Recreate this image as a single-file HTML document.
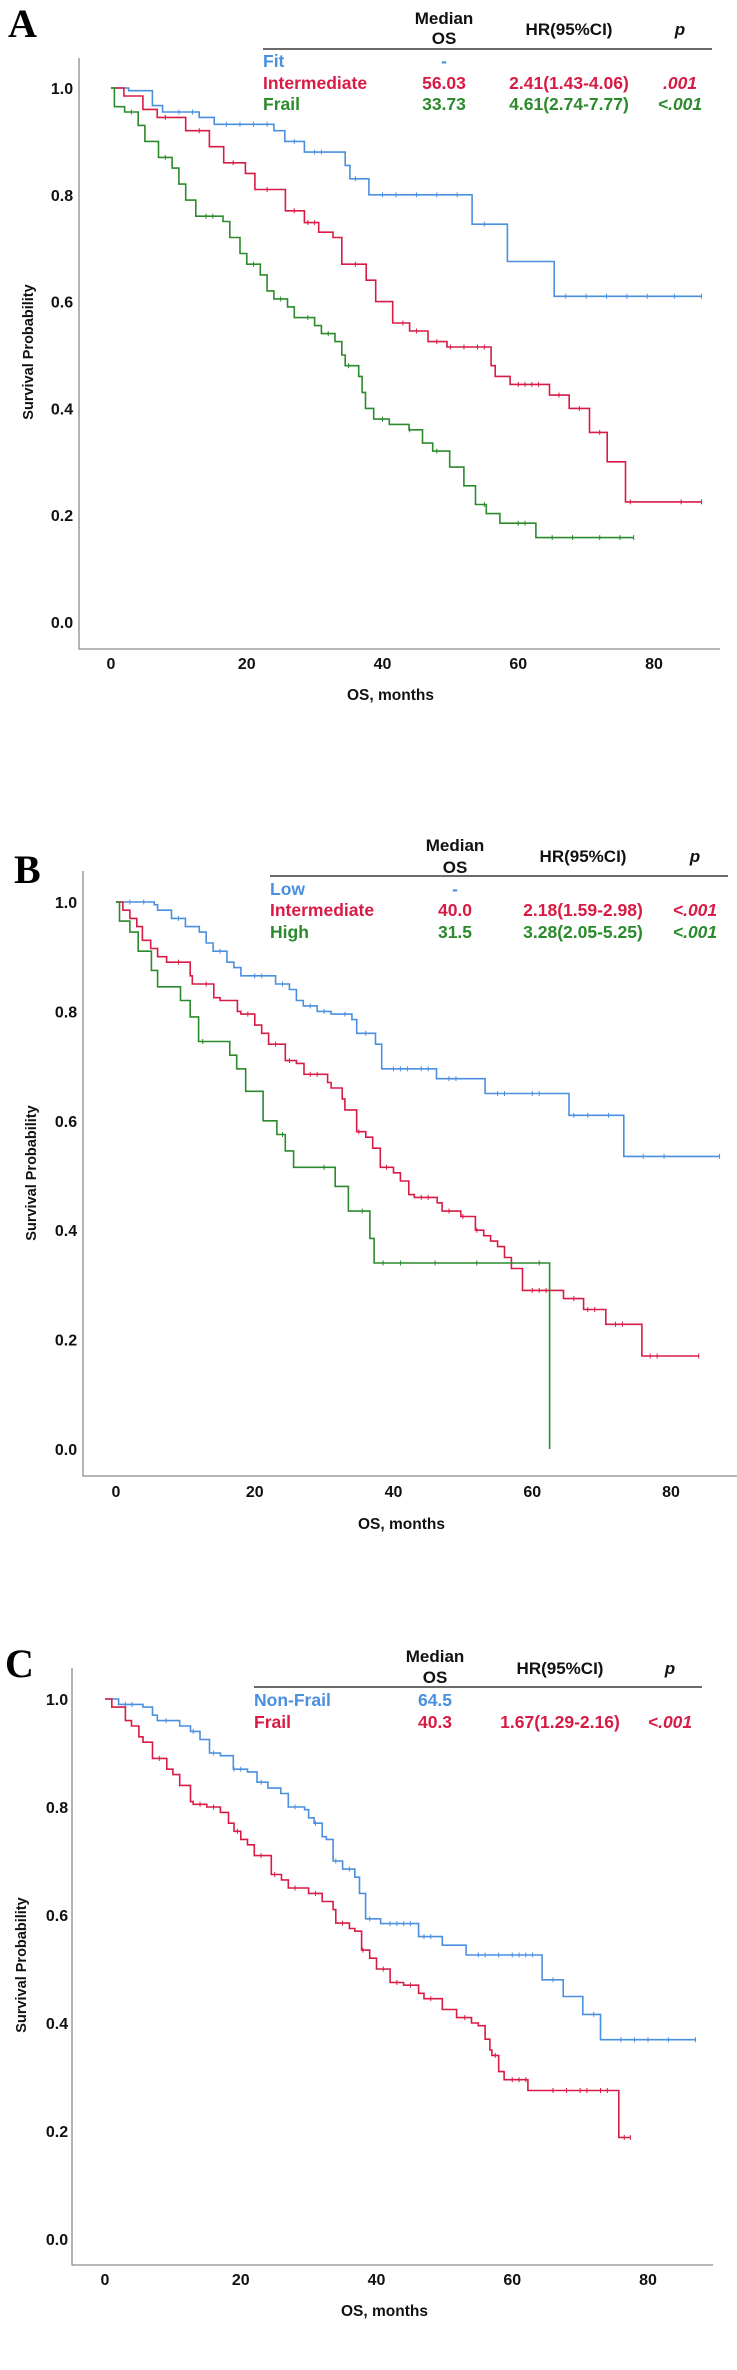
<!DOCTYPE html>
<html><head><meta charset="utf-8"><style>
html,body{margin:0;padding:0;background:#fff;}
svg{display:block;font-family:"Liberation Sans",Arial,sans-serif;}
</style></head><body>
<svg id="fig" width="737" height="2370" viewBox="0 0 737 2370" xmlns="http://www.w3.org/2000/svg"></svg>
<script>
// ---- data (months, survival probability) ----
const xTicks = [0, 20, 40, 60, 80];
const yTicks = [0.0, 0.2, 0.4, 0.6, 0.8, 1.0];
const yTickLabels = ["0.0", "0.2", "0.4", "0.6", "0.8", "1.0"];

// Panel A
const aFitT = [2.6, 6.1, 7.6, 13, 15.2, 24, 25.6, 28.5, 34.5, 35.2, 38, 53.2, 58.4, 65.3];
const aFitS = [0.995, 0.967, 0.955, 0.945, 0.932, 0.92, 0.90, 0.88, 0.855, 0.83, 0.80, 0.745, 0.675, 0.61];
const aFitEnd = 87;
const aFitCens = [10, 12, 17, 19, 21, 23, 27, 30, 31, 36, 40, 42, 45, 48, 51, 55, 67, 70, 73, 76, 79, 83, 87];
const aIntT = [1.9, 4.7, 6.8, 11, 14.5, 16.6, 19.8, 21.2, 25.7, 28.5, 30.6, 32.7, 34, 37.6, 39, 41.5, 44, 46.7, 49.5, 56, 56.6, 58.8, 64.6, 67.5, 70.5, 73.1, 75.8];
const aIntS = [0.985, 0.96, 0.945, 0.92, 0.89, 0.86, 0.84, 0.81, 0.77, 0.748, 0.73, 0.72, 0.67, 0.64, 0.6, 0.56, 0.545, 0.525, 0.515, 0.48, 0.46, 0.445, 0.425, 0.40, 0.355, 0.30, 0.225];
const aIntEnd = 87;
const aIntCens = [8, 13, 18, 23, 27, 29, 30, 36, 43, 45, 48, 50, 52, 54, 55, 60, 61, 62, 63, 66, 69, 72, 76.5, 84, 87];
const aFrailT = [0.5, 2, 4, 5, 7, 9, 10, 11, 12.5, 16.5, 17.5, 19, 20, 22, 23, 24, 26, 27, 30, 31, 33, 34, 34.5, 36.5, 37, 37.5, 38.7, 41, 43.9, 45.9, 47.4, 49.9, 52, 53.7, 55.3, 57.3, 62.6];
const aFrailS = [0.965, 0.955, 0.93, 0.90, 0.87, 0.85, 0.82, 0.79, 0.76, 0.75, 0.72, 0.69, 0.67, 0.65, 0.62, 0.605, 0.59, 0.57, 0.555, 0.54, 0.525, 0.50, 0.48, 0.46, 0.43, 0.40, 0.38, 0.37, 0.36, 0.335, 0.32, 0.29, 0.255, 0.22, 0.203, 0.185, 0.158];
const aFrailEnd = 77;
const aFrailCens = [3, 8, 14, 15, 21, 25, 29, 32, 35, 40, 44, 48, 55, 60, 61, 65, 68, 72, 75, 77];

// Panel B
const bLowT = [5.5, 6, 8, 10, 12, 13, 14, 16, 17, 18, 23, 25, 26, 27, 29, 31, 34, 34.7, 37.4, 38.3, 46.2, 53.2, 65.3, 73.2];
const bLowS = [0.995, 0.985, 0.97, 0.955, 0.945, 0.925, 0.91, 0.89, 0.88, 0.865, 0.85, 0.84, 0.82, 0.81, 0.80, 0.795, 0.785, 0.76, 0.74, 0.695, 0.677, 0.65, 0.61, 0.535];
const bLowEnd = 87;
const bLowCens = [2, 4, 9, 15, 20, 21, 24, 28, 30, 33, 36, 40, 41, 42, 44, 45, 48, 49, 55, 56, 60, 61, 66, 68, 71, 76, 79, 87];
const bIntT = [1, 2, 3, 3.8, 5, 6, 7.3, 10.7, 11, 14.1, 15, 17.5, 18, 20, 21, 22, 24.4, 26, 27.1, 30.5, 31, 32.6, 33, 34.7, 36, 37, 38.1, 40, 41, 42.2, 43, 46.3, 47, 49.7, 51.8, 53, 54, 55, 56, 57, 58.6, 64.5, 67.4, 70.6, 75.8];
const bIntS = [0.985, 0.97, 0.955, 0.93, 0.915, 0.90, 0.89, 0.865, 0.85, 0.825, 0.82, 0.80, 0.795, 0.775, 0.76, 0.74, 0.71, 0.705, 0.685, 0.67, 0.66, 0.64, 0.62, 0.58, 0.57, 0.55, 0.515, 0.505, 0.49, 0.465, 0.46, 0.45, 0.435, 0.425, 0.40, 0.39, 0.38, 0.37, 0.35, 0.33, 0.29, 0.275, 0.255, 0.228, 0.17];
const bIntEnd = 84;
const bIntCens = [9, 13, 19, 23, 25, 28, 29, 35, 39, 44, 45, 48, 50, 52, 60, 61, 62, 66, 68, 69, 72, 73, 77, 78, 84];
const bHighT = [0.5, 2, 3.2, 5.1, 6, 9.3, 10.7, 11.9, 16.4, 17.4, 18.7, 21.2, 23.2, 24.4, 25.6, 31.6, 33.5, 36.6, 37.2, 62.5];
const bHighS = [0.965, 0.945, 0.91, 0.875, 0.845, 0.82, 0.79, 0.745, 0.72, 0.695, 0.654, 0.60, 0.575, 0.545, 0.515, 0.48, 0.435, 0.385, 0.34, 0.0];
const bHighEnd = 62.5;
const bHighCens = [12.5, 24, 30, 35.5, 38.5, 41, 46, 52, 61];

// Panel C
const cNonT = [2, 5.6, 7, 7.7, 11, 12.6, 14, 15.4, 17, 18.9, 21, 22.4, 24, 25.9, 27, 29.4, 30, 30.8, 32, 32.6, 33.6, 35, 36.8, 37.5, 38.4, 40.6, 46.2, 49.7, 53.2, 64.4, 67.5, 70.4, 73];
const cNonS = [0.99, 0.985, 0.97, 0.96, 0.95, 0.94, 0.925, 0.90, 0.895, 0.87, 0.865, 0.846, 0.835, 0.825, 0.80, 0.795, 0.78, 0.77, 0.745, 0.74, 0.70, 0.685, 0.67, 0.64, 0.593, 0.584, 0.56, 0.544, 0.526, 0.48, 0.449, 0.416, 0.369];
const cNonEnd = 87;
const cNonCens = [3, 4, 9, 13, 16, 19, 20, 23, 28, 31, 34, 36, 39, 42, 43, 44, 45, 47, 48, 55, 56, 58, 60, 61, 62, 63, 66, 72, 76, 78, 80, 83, 87];
const cFrailT = [1, 3, 3.9, 5, 5.6, 7, 9.1, 10, 11, 12.6, 13, 15, 17, 18.2, 19, 20, 21, 22, 24.5, 26, 27, 30, 32, 33.6, 34, 36, 36.8, 37.8, 39, 40, 42, 44, 46.2, 47, 49.7, 51.8, 54, 55, 56, 56.7, 57, 58, 58.8, 62.3, 75.7];
const cFrailS = [0.985, 0.96, 0.95, 0.93, 0.92, 0.89, 0.87, 0.86, 0.84, 0.81, 0.805, 0.80, 0.79, 0.77, 0.755, 0.74, 0.73, 0.71, 0.675, 0.665, 0.65, 0.64, 0.625, 0.61, 0.585, 0.575, 0.57, 0.535, 0.52, 0.50, 0.475, 0.47, 0.455, 0.445, 0.425, 0.41, 0.40, 0.395, 0.37, 0.35, 0.34, 0.31, 0.295, 0.275, 0.188];
const cFrailEnd = 77.4;
const cFrailCens = [8, 14, 16, 19.5, 23, 25, 28, 31, 35, 38, 41, 43, 45, 48, 53, 57.5, 60, 61, 62, 66, 68, 70, 71, 73, 74, 76.5, 77.4];

// ---- drawing ----
const NS = "http://www.w3.org/2000/svg";
const svg = document.getElementById("fig");
const BLUE = "#4a8fe0", RED = "#d81b45", GREEN = "#2b8a2b", AX = "#8c8c8c";

function mk(tag, attrs, parent) {
  const el = document.createElementNS(NS, tag);
  for (const k in attrs) el.setAttribute(k, attrs[k]);
  (parent || svg).appendChild(el);
  return el;
}
function txt(s, attrs, parent) { const t = mk("text", attrs, parent); t.textContent = s; return t; }

function stepValue(T, S, t) {
  let v = 1;
  for (let i = 0; i < T.length; i++) { if (T[i] <= t) v = S[i]; }
  return v;
}

function panel(p) {
  const g = mk("g", {});
  
  
  const X = m => p.x0 + (p.x80 - p.x0) * m / 80;
  const Y = s => p.y0 + (p.y1 - p.y0) * s;
  // letter
  const L = txt(p.letter, {x: p.lx, y: p.ly, "font-family": "'Liberation Serif',serif", "font-weight": "bold", "font-size": 40, fill: "#000"}, g);
  
  
  // axes
  const ax = mk("path", {d: `M${p.ax} ${p.atop} V${p.ay} H${p.aright}`, stroke: AX, "stroke-width": 1.3, fill: "none"}, g);
  
  
  yTicks.forEach((v, i) => {
    const t = txt(yTickLabels[i], {x: p.tickx, y: Y(v) + 6, "text-anchor": "middle", "font-weight": "bold", "font-size": 16, fill: "#111"}, g);
    
    
  });
  xTicks.forEach(v => {
    const t = txt(String(v), {x: X(v), y: p.xticky, "text-anchor": "middle", "font-weight": "bold", "font-size": 16, fill: "#111"}, g);
    
    
  });
  const yl = txt("Survival Probability", {x: 0, y: 0, transform: `translate(${p.ylx},${p.yly}) rotate(-90)`, "text-anchor": "middle", "font-weight": "bold", "font-size": 14.5, fill: "#111"}, g);
  
  
  const xl = txt("OS, months", {x: (X(0) + X(80)) / 2 + 8, y: p.xly, "text-anchor": "middle", "font-weight": "bold", "font-size": 15.5, fill: "#111"}, g);
  
  
  // series
  p.series.forEach(s => {
    let d = `M${X(0)} ${Y(1)}`;
    s.T.forEach((t, i) => { d += ` H${X(t).toFixed(1)} V${Y(s.S[i]).toFixed(1)}`; });
    d += ` H${X(s.end).toFixed(1)}`;
    const path = mk("path", {d, stroke: s.color, "stroke-width": 1.6, fill: "none"}, g);
    
    
    s.cens.forEach(c => {
      const yy = Y(stepValue(s.T, s.S, c));
      const m = mk("line", {x1: X(c), x2: X(c), y1: yy - 2.5, y2: yy + 2.5, stroke: s.color, "stroke-width": 1}, g);
      
      
    });
  });
  // table
  const tb = p.table;
  const hdr = {"font-weight": "bold", "font-size": 17, fill: "#111", "text-anchor": "middle"};
  txt("Median", Object.assign({x: tb.medx, y: tb.h1}, hdr), g);
  txt("OS", Object.assign({x: tb.medx, y: tb.h2}, hdr), g);
  txt("HR(95%CI)", Object.assign({x: tb.hrx, y: tb.hm}, hdr), g);
  txt("p", Object.assign({x: tb.px, y: tb.hm, "font-style": "italic"}, hdr), g);
  const rule = mk("line", {x1: tb.l1, x2: tb.l2, y1: tb.ly, y2: tb.ly, stroke: "#111", "stroke-width": 1.3}, g);
  
  
  tb.rows.forEach((r, i) => {
    const y = tb.rowy[i];
    const st = {"font-weight": "bold", "font-size": 17.5, fill: r.color};
    const a = txt(r.label, Object.assign({x: tb.l1, y}, st), g);
    
    
    const b = txt(r.med, Object.assign({x: tb.medx, y, "text-anchor": "middle"}, st), g);
    
    
    if (r.hr) {
      const c = txt(r.hr, Object.assign({x: tb.hrx, y, "text-anchor": "middle"}, st), g);
      
      
      const d = txt(r.p, Object.assign({x: tb.px, y, "text-anchor": "middle", "font-style": "italic"}, st), g);
      
      
    }
  });
}

panel({
  name: "panel-a", letter: "A", lx: 8, ly: 37,
  x0: 111, x80: 654, y1: 88, y0: 622,
  ax: 79, atop: 58, ay: 649, aright: 720,
  tickx: 62, xticky: 669, ylx: 33, yly: 352, xly: 700,
  series: [
    {name: "fit", T: aFitT, S: aFitS, end: aFitEnd, cens: aFitCens, color: BLUE},
    {name: "intermediate", T: aIntT, S: aIntS, end: aIntEnd, cens: aIntCens, color: RED},
    {name: "frail", T: aFrailT, S: aFrailS, end: aFrailEnd, cens: aFrailCens, color: GREEN}
  ],
  table: {medx: 444, hrx: 569, px: 680, h1: 24, h2: 44, hm: 35, l1: 263, l2: 712, ly: 49, rowy: [67, 89, 110],
    rows: [
      {label: "Fit", med: "-", color: BLUE},
      {label: "Intermediate", med: "56.03", hr: "2.41(1.43-4.06)", p: ".001", color: RED},
      {label: "Frail", med: "33.73", hr: "4.61(2.74-7.77)", p: "<.001", color: GREEN}
    ]}
});

panel({
  name: "panel-b", letter: "B", lx: 14, ly: 883,
  x0: 116, x80: 671, y1: 902, y0: 1449,
  ax: 83, atop: 871, ay: 1476, aright: 737,
  tickx: 66, xticky: 1497, ylx: 36, yly: 1173, xly: 1529,
  series: [
    {name: "low", T: bLowT, S: bLowS, end: bLowEnd, cens: bLowCens, color: BLUE},
    {name: "intermediate", T: bIntT, S: bIntS, end: bIntEnd, cens: bIntCens, color: RED},
    {name: "high", T: bHighT, S: bHighS, end: bHighEnd, cens: bHighCens, color: GREEN}
  ],
  table: {medx: 455, hrx: 583, px: 695, h1: 851, h2: 873, hm: 862, l1: 270, l2: 728, ly: 876, rowy: [895, 916, 938],
    rows: [
      {label: "Low", med: "-", color: BLUE},
      {label: "Intermediate", med: "40.0", hr: "2.18(1.59-2.98)", p: "<.001", color: RED},
      {label: "High", med: "31.5", hr: "3.28(2.05-5.25)", p: "<.001", color: GREEN}
    ]}
});

panel({
  name: "panel-c", letter: "C", lx: 5, ly: 1677,
  x0: 105, x80: 648, y1: 1699, y0: 2239,
  ax: 72, atop: 1668, ay: 2265, aright: 713,
  tickx: 57, xticky: 2285, ylx: 26, yly: 1965, xly: 2316,
  series: [
    {name: "non-frail", T: cNonT, S: cNonS, end: cNonEnd, cens: cNonCens, color: BLUE},
    {name: "frail", T: cFrailT, S: cFrailS, end: cFrailEnd, cens: cFrailCens, color: RED}
  ],
  table: {medx: 435, hrx: 560, px: 670, h1: 1662, h2: 1683, hm: 1674, l1: 254, l2: 702, ly: 1687, rowy: [1706, 1728],
    rows: [
      {label: "Non-Frail", med: "64.5", color: BLUE},
      {label: "Frail", med: "40.3", hr: "1.67(1.29-2.16)", p: "<.001", color: RED}
    ]}
});
</script>
</body></html>
